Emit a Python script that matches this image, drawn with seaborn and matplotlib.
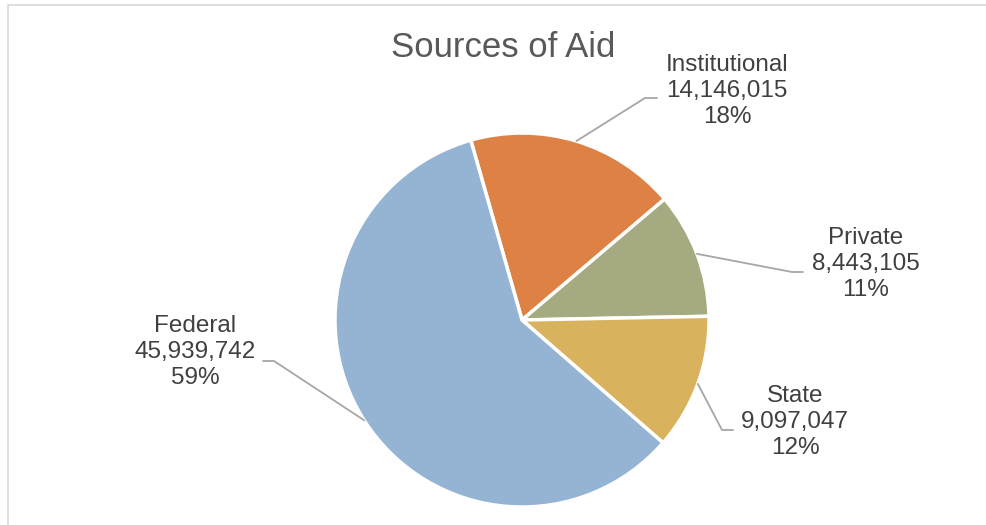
import matplotlib
matplotlib.use("Agg")
import matplotlib.pyplot as plt
import seaborn as sns
import numpy as np

sns.set_theme(style="white")
plt.rcParams['font.family'] = ['Liberation Sans', 'DejaVu Sans']

categories = ["Institutional", "Private", "State", "Federal"]
values = [14146015, 8443105, 9097047, 45939742]
colors = ["#DE8145", "#A5AA80", "#D8B25C", "#95B3D3"]

# layout (pixel space of a 987x525 canvas)
W, H = 987, 525
center = (522, H - 320)
radius = 187
start_angle = 90 + 15.9

label_pos = {
    "Institutional": (727, H - 91),
    "Private": (866, H - 264),
    "State": (795, H - 422),
    "Federal": (195, H - 352),
}
elbow = {
    "Institutional": ((645, H - 98), (657, H - 98)),
    "Private": ((792, H - 272), (803, H - 272)),
    "State": ((722, H - 430), (733, H - 430)),
    "Federal": ((274, H - 361), (263, H - 361)),
}

fig = plt.figure(figsize=(W / 100, H / 100), dpi=100)
ax = fig.add_axes([0, 0, 1, 1])
ax.set_xlim(0, W)
ax.set_ylim(0, H)
ax.set_aspect("equal")
ax.axis("off")

wedges, _ = ax.pie(values, colors=colors, startangle=start_angle, counterclock=False,
                   center=center, radius=radius,
                   wedgeprops=dict(edgecolor="white", linewidth=2.5))
ax.set_xlim(0, W)
ax.set_ylim(0, H)

total = sum(values)
for w, cat, v in zip(wedges, categories, values):
    ang = np.deg2rad((w.theta1 + w.theta2) / 2)
    px = center[0] + radius * np.cos(ang)
    py = center[1] + radius * np.sin(ang)
    (ex, ey), (hx, hy) = elbow[cat]
    ax.plot([px, ex, hx], [py, ey, hy], color="#A6A6A6", lw=1.3, zorder=3)
    lx, ly = label_pos[cat]
    ax.text(lx, ly, f"{cat}\n{v:,}\n{v / total:.0%}", ha="center", va="center",
            fontsize=17.5, color="#404040", linespacing=1.22)

ax.text(503, H - 47, "Sources of Aid", ha="center", va="center",
        fontsize=25, color="#595959")

# chart frame
ax.plot([8, 8, W], [0, H - 5, H - 5], color="#D9D9D9", lw=1.2, clip_on=False)

fig.savefig("out.png", dpi=100)
